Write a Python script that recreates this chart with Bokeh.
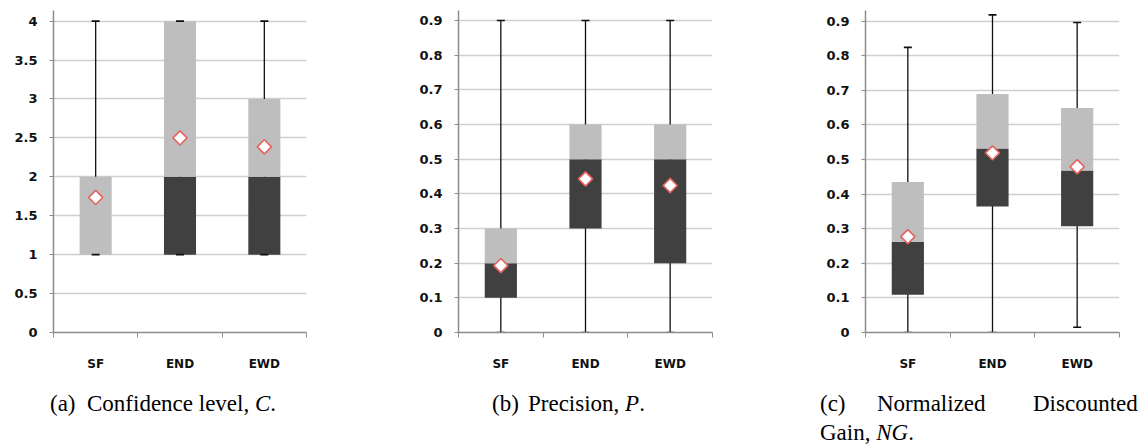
from bokeh.plotting import figure
from bokeh.models import FixedTicker, Range1d, Div
from bokeh.layouts import row, column
from bokeh.embed import file_html
from bokeh.resources import INLINE

# ---------------- data ----------------
categories = ["SF", "END", "EWD"]

conf_ticks = [0, 0.5, 1, 1.5, 2, 2.5, 3, 3.5, 4]
conf_tick_labels = ["0", "0.5", "1", "1.5", "2", "2.5", "3", "3.5", "4"]
conf_min = [1, 1, 1]
conf_q1 = [1, 1, 1]
conf_med = [1, 2, 2]
conf_q3 = [2, 4, 3]
conf_max = [4, 4, 4]
conf_mean = [1.735, 2.50, 2.385]

frac_ticks = [0, 0.1, 0.2, 0.3, 0.4, 0.5, 0.6, 0.7, 0.8, 0.9]
frac_tick_labels = ["0", "0.1", "0.2", "0.3", "0.4", "0.5", "0.6", "0.7", "0.8", "0.9"]

prec_min = [0, 0, 0]
prec_q1 = [0.1, 0.3, 0.2]
prec_med = [0.2, 0.5, 0.5]
prec_q3 = [0.3, 0.6, 0.6]
prec_max = [0.9, 0.9, 0.9]
prec_mean = [0.193, 0.443, 0.424]

ng_min = [0, 0, 0.015]
ng_q1 = [0.109, 0.364, 0.307]
ng_med = [0.262, 0.532, 0.468]
ng_q3 = [0.435, 0.689, 0.649]
ng_max = [0.824, 0.918, 0.896]
ng_mean = [0.277, 0.519, 0.479]

# ---------------- style ----------------
LIGHT = "#BEBEBE"
DARK = "#404040"
GRID = "#CFCFCF"
AXIS = "#8C8C8C"
TXT = "#111111"
RED = "#E5625E"
FIG_H = 388
BORDER_TOP = 10


def make_panel(width, b_left, b_right, b_bottom, y_end, ticks, tick_labels,
               mins, q1, med, q3, maxs, means):
    p = figure(width=width, height=FIG_H, output_backend="svg", toolbar_location=None,
               x_range=Range1d(0, 3), y_range=Range1d(0, y_end),
               min_border_left=b_left, min_border_right=b_right,
               min_border_top=BORDER_TOP, min_border_bottom=b_bottom,
               background_fill_color="white", border_fill_color="white")
    p.title.visible = False
    p.outline_line_color = None

    xs = [i + 0.5 for i in range(len(categories))]

    p.xgrid.visible = False
    p.ygrid.ticker = FixedTicker(ticks=ticks)
    p.ygrid.grid_line_color = GRID
    p.ygrid.grid_line_width = 1.3

    ya = p.yaxis[0]
    ya.ticker = FixedTicker(ticks=ticks)
    ya.major_label_overrides = {t: l for t, l in zip(ticks, tick_labels)}
    ya.axis_line_color = AXIS
    ya.axis_line_width = 1.5
    ya.major_tick_line_color = AXIS
    ya.major_tick_out = 4
    ya.major_tick_in = 0
    ya.minor_tick_line_color = None
    ya.major_label_standoff = 12
    ya.major_label_text_font = "DejaVu Sans"
    ya.major_label_text_font_style = "bold"
    ya.major_label_text_font_size = "13px"
    ya.major_label_text_color = TXT

    xa = p.xaxis[0]
    xa.ticker = FixedTicker(ticks=xs, minor_ticks=[0, 1, 2, 3])
    xa.major_label_overrides = {x: c for x, c in zip(xs, categories)}
    xa.axis_line_color = AXIS
    xa.axis_line_width = 1.5
    xa.major_tick_out = 0
    xa.major_tick_in = 0
    xa.minor_tick_line_color = AXIS
    xa.minor_tick_out = 5
    xa.minor_tick_in = 0
    xa.major_label_standoff = 19
    xa.major_label_text_font = "DejaVu Sans"
    xa.major_label_text_font_style = "bold"
    xa.major_label_text_font_size = "12px"
    xa.major_label_text_color = TXT

    p.segment(x0=xs, y0=mins, x1=xs, y1=maxs, line_color="#111111", line_width=1.3)
    p.vbar(x=xs, bottom=q1, top=med, width=0.38, fill_color=DARK, line_color=None)
    p.vbar(x=xs, bottom=med, top=q3, width=0.38, fill_color=LIGHT, line_color=None)
    p.scatter(x=xs, y=mins, marker="dash", size=8, line_color="#111111", line_width=1.6)
    p.scatter(x=xs, y=maxs, marker="dash", size=8, line_color="#111111", line_width=1.6)
    p.scatter(x=xs, y=means, marker="square", angle=0.785398, size=10,
              fill_color="white", line_color=RED, line_width=1.6)
    return p


pa = make_panel(380, 53, 74, 56, 4.137, conf_ticks, conf_tick_labels,
                conf_min, conf_q1, conf_med, conf_q3, conf_max, conf_mean)
pb = make_panel(380, 78, 48, 54, 0.9287, frac_ticks, frac_tick_labels,
                prec_min, prec_q1, prec_med, prec_q3, prec_max, prec_mean)
pc = make_panel(383, 105, 24, 52, 0.9305, frac_ticks, frac_tick_labels,
                ng_min, ng_q1, ng_med, ng_q3, ng_max, ng_mean)

ib = "display:inline-block;white-space:nowrap;"
caption_html = (
    "<div style=\"font-family:'Liberation Serif','Times New Roman',serif;font-size:23px;"
    "line-height:29px;margin-top:-4px;color:black;white-space:nowrap;width:1143px;\">"
    f"<span style='{ib}width:45px'></span>"
    f"<span style='{ib}width:37px'>(a)</span>"
    f"<span style='{ib}width:405px'>Confidence level, <i>C</i>.</span>"
    f"<span style='{ib}width:36px'>(b)</span>"
    f"<span style='{ib}width:292px'>Precision, <i>P</i>.</span>"
    f"<span style='{ib}width:57px'>(c)</span>"
    f"<span style='{ib}width:156px'>Normalized</span>"
    f"<span style='{ib}'>Discounted</span><br>"
    f"<span style='{ib}width:815px'></span>"
    f"<span style='{ib}'>Gain, <i>NG</i>.</span>"
    "</div>"
)
captions = Div(text=caption_html, width=1143, height=59)

layout = column(row(pa, pb, pc, spacing=0), captions, spacing=0)
open("out.html", "w").write(file_html(layout, INLINE))
